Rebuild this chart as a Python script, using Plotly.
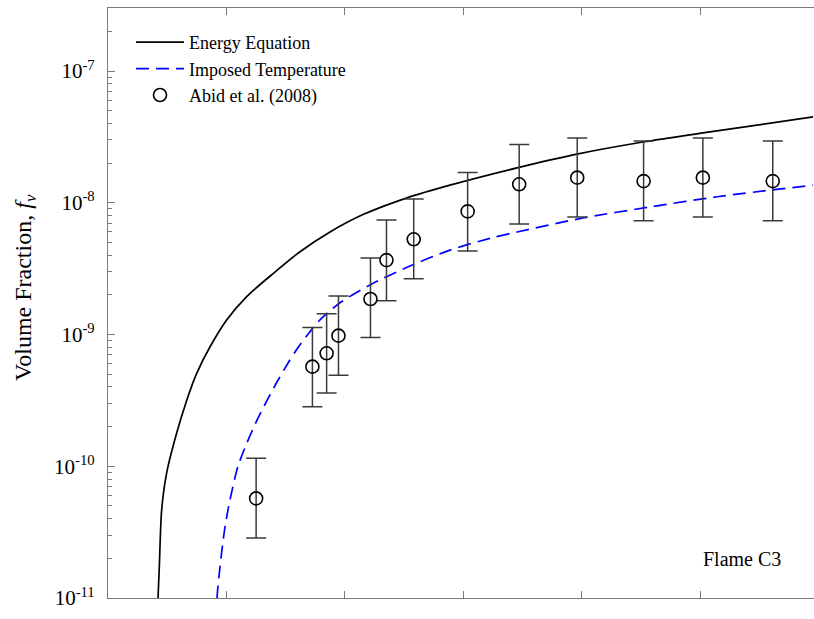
import plotly.graph_objects as go

# Energy Equation (solid black)
energy_x = [0.083, 0.0844, 0.0866, 0.0906, 0.0990, 0.1158, 0.1328, 0.1497, 0.1722, 0.2003,
            0.2341, 0.279, 0.3241, 0.3747, 0.4304, 0.5046, 0.5772, 0.6903, 0.7916, 0.903,
            1.0042, 1.19]
energy_y = [7e-12, 1.0e-11, 1.72e-11, 4.68e-11, 8.9e-11, 1.78e-10, 3.16e-10, 5.07e-10, 8.07e-10, 1.29e-9,
            1.94e-9, 2.91e-9, 4.25e-9, 6.0e-9, 8.13e-9, 1.09e-8, 1.36e-8, 1.84e-8, 2.34e-8, 2.89e-8,
            3.39e-8, 4.48e-8]

# Imposed Temperature (dashed blue)
imposed_x = [0.1835, 0.184, 0.189, 0.1975, 0.2059, 0.2194, 0.2346, 0.2515, 0.2684, 0.2847,
             0.3021, 0.319, 0.3409, 0.3578, 0.3916, 0.4422, 0.5097, 0.5772, 0.6447, 0.6903,
             0.8017, 0.9148, 1.0278, 1.19]
imposed_y = [7e-12, 1.0e-11, 1.72e-11, 3.47e-11, 5.55e-11, 1.0e-10, 1.51e-10, 2.24e-10, 3.16e-10, 4.32e-10,
             5.89e-10, 7.76e-10, 1.05e-9, 1.29e-9, 1.74e-9, 2.38e-9, 3.31e-9, 4.37e-9, 5.37e-9, 6.0e-9,
             7.66e-9, 9.29e-9, 1.11e-8, 1.36e-8]

# Abid et al. (2008) measurements
abid_x = [0.25, 0.345, 0.369, 0.389, 0.443, 0.470, 0.516, 0.607, 0.694, 0.792, 0.904, 1.004, 1.122]
abid_y = [5.7e-11, 5.7e-10, 7.2e-10, 9.8e-10, 1.86e-9, 3.67e-9, 5.28e-9, 8.6e-9, 1.38e-8, 1.55e-8,
          1.46e-8, 1.55e-8, 1.46e-8]
abid_hi = [1.15e-10, 1.13e-9, 1.44e-9, 1.96e-9, 3.8e-9, 7.4e-9, 1.07e-8, 1.7e-8, 2.77e-8, 3.1e-8,
           2.94e-8, 3.1e-8, 2.94e-8]
abid_lo = [2.85e-11, 2.83e-10, 3.6e-10, 4.9e-10, 9.5e-10, 1.8e-9, 2.65e-9, 4.3e-9, 6.9e-9, 7.8e-9,
           7.3e-9, 7.8e-9, 7.3e-9]

y_tickvals = [1e-11, 1e-10, 1e-9, 1e-8, 1e-7]
y_ticktext = ["10<sup>-11</sup>", "10<sup>-10</sup>", "10<sup>-9</sup>", "10<sup>-8</sup>", "10<sup>-7</sup>"]
x_tickvals = [0.2, 0.4, 0.6, 0.8, 1.0]

minor_vals = [m * 10.0 ** e for e in range(-11, -6) for m in range(2, 10)]

err_plus = [h - v for h, v in zip(abid_hi, abid_y)]
err_minus = [v - l for v, l in zip(abid_y, abid_lo)]

FONT = "Liberation Serif"
AX = "#7a7a7a"

# plot area in page pixels
PL, PR, PT, PB = 108, 814, 8, 598
PW, PH = PR - PL, PB - PT

fig = go.Figure()
fig.add_trace(go.Scatter(x=energy_x, y=energy_y, mode="lines", name="Energy Equation",
                         line=dict(color="black", width=1.7, shape="spline", smoothing=0.8)))
fig.add_trace(go.Scatter(x=imposed_x, y=imposed_y, mode="lines", name="Imposed Temperature",
                         line=dict(color="#0000ff", width=1.7, dash="13px,7px",
                                   shape="spline", smoothing=0.8)))
fig.add_trace(go.Scatter(x=abid_x, y=abid_y, mode="markers", name="Abid et al. (2008)",
                         marker=dict(symbol="circle-open", size=13, color="black",
                                     line=dict(color="black", width=1.6)),
                         error_y=dict(type="data", symmetric=False, array=err_plus,
                                      arrayminus=err_minus, color="#3a3a3a",
                                      thickness=1.5, width=10)))

fig.add_annotation(xref="paper", yref="paper", x=(783 - PL) / PW, y=(PB - 559) / PH,
                   text="Flame C3", showarrow=False, xanchor="right", yanchor="middle",
                   font=dict(family=FONT, size=20, color="black"))

fig.add_annotation(xref="paper", yref="paper", x=(25 - PL) / PW, y=(PB - 288) / PH,
                   text="Volume Fraction, <i>f</i><sub><i>v</i></sub>", textangle=-90,
                   showarrow=False, xanchor="center", yanchor="middle",
                   font=dict(family=FONT, size=24, color="black"))

fig.update_layout(
    width=814, height=619,
    margin=dict(l=PL, r=814 - PR, t=PT, b=619 - PB, autoexpand=False),
    paper_bgcolor="white", plot_bgcolor="white",
    font=dict(family=FONT, color="black"),
    showlegend=True,
    legend=dict(x=(131 - PL) / PW, y=1 - (24 - PT) / PH, xanchor="left", yanchor="top",
                bgcolor="rgba(0,0,0,0)", font=dict(family=FONT, size=18, color="black"),
                tracegroupgap=0, itemwidth=48),
    xaxis=dict(range=[0, 1.1916], showgrid=False, zeroline=False, automargin=False,
               showline=True, linecolor=AX, linewidth=1.2, mirror="ticks",
               ticks="inside", ticklen=7, tickcolor=AX, tickwidth=1.2,
               tickvals=x_tickvals, showticklabels=False),
    yaxis=dict(type="log", range=[-11, -11 + PH / 131.75], showgrid=False, zeroline=False,
               automargin=False,
               showline=True, linecolor=AX, linewidth=1.2, mirror=False,
               ticks="inside", ticklen=7, tickcolor=AX, tickwidth=1.2,
               tickmode="array", tickvals=y_tickvals, ticktext=y_ticktext,
               ticklabelstandoff=8,
               tickfont=dict(family=FONT, size=21, color="black"),
               minor=dict(ticks="inside", ticklen=4, tickcolor=AX, tickwidth=1,
                          tickmode="array", tickvals=minor_vals, showgrid=False)),
)

fig.write_html("out.html", config={"displayModeBar": False},
               post_script="document.body.style.margin='0';document.body.style.overflow='hidden';")
